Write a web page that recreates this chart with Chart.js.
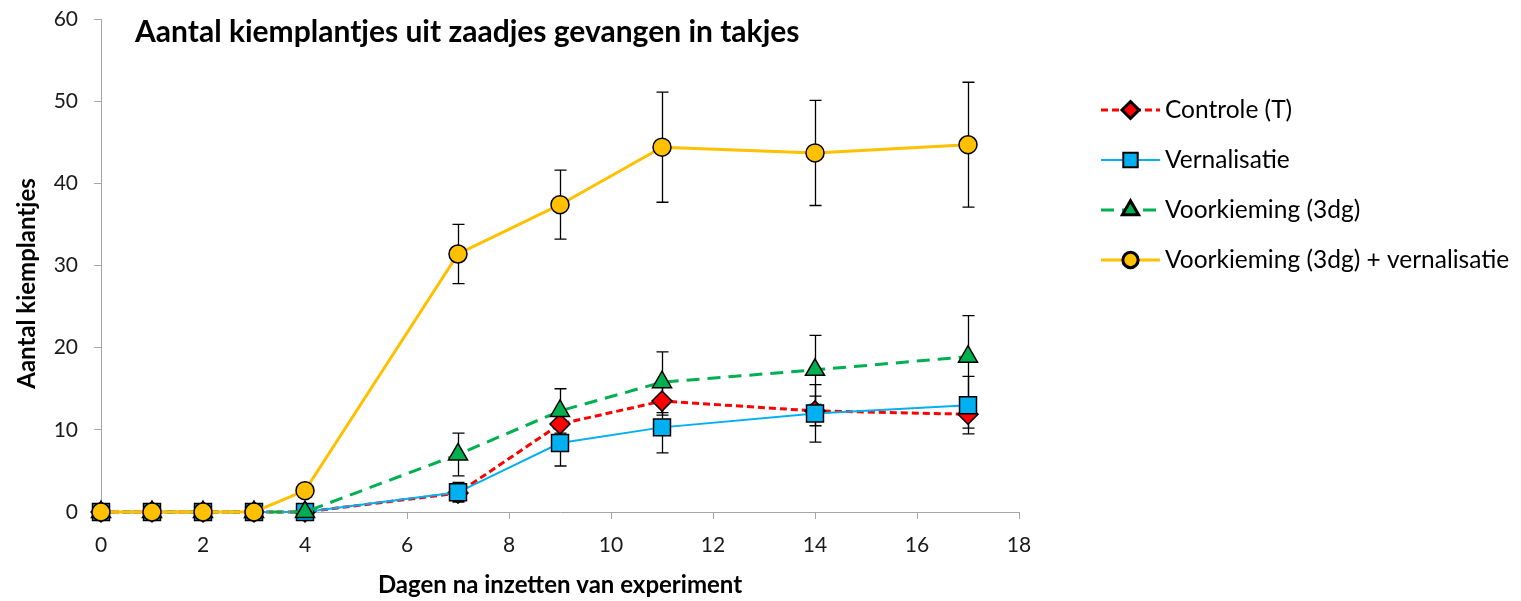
<!DOCTYPE html>
<html>
<head>
<meta charset="utf-8">
<script src="https://cdn.jsdelivr.net/npm/chart.js@4.4.1/dist/chart.umd.min.js"></script>
<style>
  html, body { margin: 0; padding: 0; background: #fff; }
  #wrap { width: 1521px; height: 601px; position: relative; }
</style>
</head>
<body>
<div id="wrap"><canvas id="c" width="1521" height="601"></canvas></div>
<script>
const days = [0, 1, 2, 3, 4, 7, 9, 11, 14, 17];
const controle = [0, 0, 0, 0, 0, 2.3, 10.7, 13.5, 12.3, 11.9];
const controleErr = [0, 0, 0, 0, 0, 1.0, 1.5, 1.7, 1.8, 1.7];
const vernalisatie = [0, 0, 0, 0, 0, 2.4, 8.4, 10.3, 12.0, 13.0];
const vernalisatieErr = [0, 0, 0, 0, 0, 1.2, 2.8, 3.1, 3.5, 3.5];
const voorkieming = [0, 0, 0, 0, 0, 7.0, 12.3, 15.8, 17.3, 18.9];
const voorkiemingErr = [0, 0, 0, 0, 0, 2.6, 2.7, 3.7, 4.2, 5.0];
const voorkiemingVern = [0, 0, 0, 0, 2.6, 31.4, 37.4, 44.4, 43.7, 44.7];
const voorkiemingVernErr = [0, 0, 0, 0, 0, 3.6, 4.2, 6.7, 6.4, 7.6];
const seriesNames = ['Controle (T)', 'Vernalisatie', 'Voorkieming (3dg)', 'Voorkieming (3dg) + vernalisatie'];
const chartTitle = 'Aantal kiemplantjes uit zaadjes gevangen in takjes';
const yTitle = 'Aantal kiemplantjes';
const xTitle = 'Dagen na inzetten van experiment';

const FONT = 'Lato, "Open Sans", sans-serif';
const toPts = (ys) => days.map((d, i) => ({x: d, y: ys[i]}));

const datasets = [
  { label: seriesNames[0], data: toPts(controle), err: controleErr, borderColor: '#FF0000', backgroundColor: '#FF0000',
    borderWidth: 3, borderDash: [7, 4], pointStyle: 'rectRot', pointRadius: 10, order: 4, legendScale: 0.85 },
  { label: seriesNames[1], data: toPts(vernalisatie), err: vernalisatieErr, borderColor: '#00B0F0', backgroundColor: '#00B0F0',
    borderWidth: 2, borderDash: [], pointStyle: 'rect', pointRadius: 12, order: 3, legendScale: 0.85 },
  { label: seriesNames[2], data: toPts(voorkieming), err: voorkiemingErr, borderColor: '#00B050', backgroundColor: '#00B050',
    borderWidth: 3, borderDash: [13, 8], pointStyle: 'triangle', pointRadius: 11, order: 2, legendScale: 0.85 },
  { label: seriesNames[3], data: toPts(voorkiemingVern), err: voorkiemingVernErr, borderColor: '#FFC000', backgroundColor: '#FFC000',
    borderWidth: 3, borderDash: [], pointStyle: 'circle', pointRadius: 9, order: 1, legendScale: 0.85 }
].map(ds => Object.assign(ds, {
  showLine: true, tension: 0, clip: false,
  pointBackgroundColor: ds.backgroundColor, pointBorderColor: '#000000', pointBorderWidth: 1.5,
  pointHoverRadius: ds.pointRadius
}));

const errorBars = {
  id: 'errorBars',
  beforeDatasetsDraw(chart) {
    const {ctx, scales: {x, y}} = chart;
    ctx.save();
    ctx.strokeStyle = '#000';
    ctx.lineWidth = 1.3;
    chart.data.datasets.forEach(ds => {
      ds.data.forEach((p, i) => {
        const e = ds.err[i];
        if (!e) return;
        const px = Math.round(x.getPixelForValue(p.x)) + 0.5;
        const yt = y.getPixelForValue(p.y + e);
        const yb = y.getPixelForValue(p.y - e);
        ctx.beginPath();
        ctx.moveTo(px, yt); ctx.lineTo(px, yb);
        ctx.moveTo(px - 6, yt); ctx.lineTo(px + 6, yt);
        ctx.moveTo(px - 6, yb); ctx.lineTo(px + 6, yb);
        ctx.stroke();
      });
    });
    ctx.restore();
  }
};

const texts = {
  id: 'texts',
  afterDraw(chart) {
    const ctx = chart.ctx;
    ctx.save();
    ctx.fillStyle = '#000';
    // main title
    ctx.font = 'bold 30px ' + FONT;
    ctx.textAlign = 'left';
    ctx.textBaseline = 'alphabetic';
    ctx.fillText(chartTitle, 135, 42);
    // y title
    ctx.save();
    ctx.translate(27, 283.5);
    ctx.rotate(-Math.PI / 2);
    ctx.font = 'bold 24px ' + FONT;
    ctx.textAlign = 'center';
    ctx.textBaseline = 'middle';
    ctx.fillText(yTitle, 0, 0);
    ctx.restore();
    // x title
    ctx.font = 'bold 24px ' + FONT;
    ctx.textAlign = 'center';
    ctx.textBaseline = 'middle';
    ctx.fillText(xTitle, 560, 585);
    // legend
    const rows = [110, 160, 210, 260];
    chart.data.datasets.forEach((ds, i) => {
      const yy = rows[i];
      ctx.save();
      ctx.strokeStyle = ds.borderColor;
      ctx.lineWidth = ds.borderWidth;
      ctx.setLineDash(ds.borderDash);
      ctx.beginPath();
      ctx.moveTo(1101, yy); ctx.lineTo(1160, yy);
      ctx.stroke();
      ctx.setLineDash([]);
      ctx.fillStyle = ds.backgroundColor;
      ctx.strokeStyle = '#000';
      Chart.helpers.drawPoint(ctx, {pointStyle: ds.pointStyle, radius: ds.pointRadius * ds.legendScale, rotation: 0, borderWidth: 1.2}, 1130.5, yy);
      ctx.restore();
      ctx.fillStyle = '#000';
      ctx.font = '24.5px ' + FONT;
      ctx.textAlign = 'left';
      ctx.textBaseline = 'middle';
      ctx.fillText(ds.label, 1165, yy);
    });
    ctx.restore();
  }
};

new Chart(document.getElementById('c'), {
  type: 'scatter',
  data: { datasets },
  options: {
    responsive: false,
    animation: false,
    events: [],
    layout: { padding: { left: 0, right: 502, top: 19, bottom: 0 } },
    plugins: { legend: { display: false }, tooltip: { enabled: false }, title: { display: false } },
    scales: {
      x: {
        type: 'linear', min: 0, max: 18,
        afterFit: (s) => { s.height = 89; s.paddingLeft = 0; s.paddingRight = 0; },
        ticks: { stepSize: 2, color: '#1a1a1a', font: { family: FONT, size: 21 }, padding: 14, maxRotation: 0 },
        grid: { drawOnChartArea: false, drawTicks: true, tickLength: 7, color: '#a6a6a6' },
        border: { color: '#a6a6a6', width: 1 }
      },
      y: {
        type: 'linear', min: 0, max: 60,
        afterFit: (s) => { s.width = 101; s.paddingTop = 0; s.paddingBottom = 0; },
        ticks: { stepSize: 10, color: '#1a1a1a', font: { family: FONT, size: 21 }, padding: 16 },
        grid: { drawOnChartArea: false, drawTicks: true, tickLength: 7, color: '#a6a6a6' },
        border: { color: '#a6a6a6', width: 1 }
      }
    }
  },
  plugins: [errorBars, texts]
});
</script>
</body>
</html>
